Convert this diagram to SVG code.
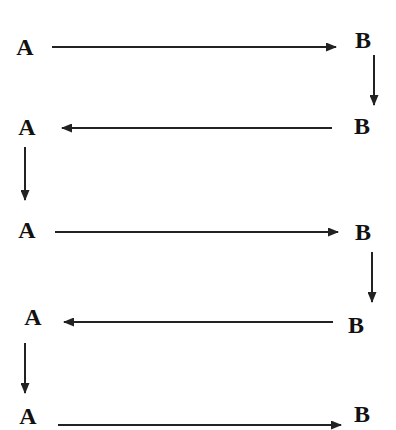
<svg xmlns="http://www.w3.org/2000/svg" width="396" height="430" viewBox="0 0 396 430">
<style>
text{font-family:"Liberation Serif","Times New Roman",serif;font-weight:bold;font-size:24px;fill:#111;text-anchor:middle}
.c line{stroke:#222;stroke-width:2}
</style>
<defs>
<marker id="ah" markerWidth="11" markerHeight="9" refX="10" refY="4.5" orient="auto" markerUnits="userSpaceOnUse">
<path d="M0,0 L11,4.5 L0,9 Z" fill="#222"/>
</marker>
</defs>
<rect width="396" height="430" fill="#fff"/>
<g id="a1"><text x="25" y="55">A</text></g>
<g id="b1"><text x="363" y="48">B</text></g>
<g id="b2"><text x="362" y="134">B</text></g>
<g id="a2"><text x="27" y="135">A</text></g>
<g id="a3"><text x="27" y="238">A</text></g>
<g id="b3"><text x="363" y="240">B</text></g>
<g id="b4"><text x="356" y="333">B</text></g>
<g id="a4"><text x="33" y="325">A</text></g>
<g id="a5"><text x="28" y="424">A</text></g>
<g id="b5"><text x="362" y="422">B</text></g>
<g class="c">
<line x1="52" y1="47" x2="336" y2="47" marker-end="url(#ah)"/>
<line x1="374" y1="55" x2="374" y2="105" marker-end="url(#ah)"/>
<line x1="332" y1="128" x2="62" y2="128" marker-end="url(#ah)"/>
<line x1="25" y1="147" x2="25" y2="200" marker-end="url(#ah)"/>
<line x1="55" y1="232" x2="338" y2="232" marker-end="url(#ah)"/>
<line x1="372" y1="252" x2="372" y2="302" marker-end="url(#ah)"/>
<line x1="333" y1="322" x2="64" y2="322" marker-end="url(#ah)"/>
<line x1="25" y1="343" x2="25" y2="393" marker-end="url(#ah)"/>
<line x1="58" y1="425" x2="341" y2="425" marker-end="url(#ah)"/>
</g>
</svg>
